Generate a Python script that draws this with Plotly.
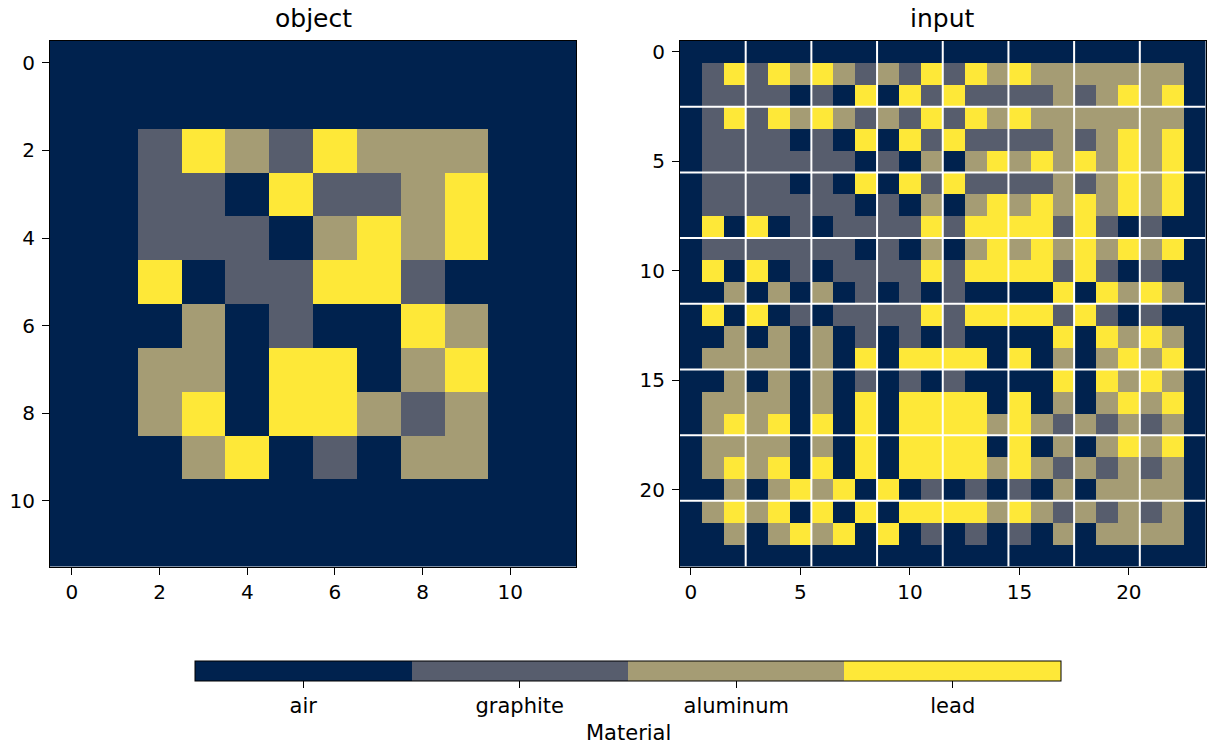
import numpy as np
import plotly.graph_objects as go

# ---------------- data ----------------
materials = ["air", "graphite", "aluminum", "lead"]
material_codes = [0, 1, 2, 3]
material_colors = ["#00224e", "#575d6d", "#a59c74", "#fee838"]

# object grid (12 x 12): 0 air, 1 graphite, 2 aluminum, 3 lead
object_grid = [
    [0, 0, 0, 0, 0, 0, 0, 0, 0, 0, 0, 0],
    [0, 0, 0, 0, 0, 0, 0, 0, 0, 0, 0, 0],
    [0, 0, 1, 3, 2, 1, 3, 2, 2, 2, 0, 0],
    [0, 0, 1, 1, 0, 3, 1, 1, 2, 3, 0, 0],
    [0, 0, 1, 1, 1, 0, 2, 3, 2, 3, 0, 0],
    [0, 0, 3, 0, 1, 1, 3, 3, 1, 0, 0, 0],
    [0, 0, 0, 2, 0, 1, 0, 0, 3, 2, 0, 0],
    [0, 0, 2, 2, 0, 3, 3, 0, 2, 3, 0, 0],
    [0, 0, 2, 3, 0, 3, 3, 2, 1, 2, 0, 0],
    [0, 0, 0, 2, 3, 0, 1, 0, 2, 2, 0, 0],
    [0, 0, 0, 0, 0, 0, 0, 0, 0, 0, 0, 0],
    [0, 0, 0, 0, 0, 0, 0, 0, 0, 0, 0, 0],
]

# input grid (24 x 24)
input_grid = [
    [0, 0, 0, 0, 0, 0, 0, 0, 0, 0, 0, 0, 0, 0, 0, 0, 0, 0, 0, 0, 0, 0, 0, 0],
    [0, 1, 3, 1, 3, 2, 3, 2, 1, 2, 1, 3, 1, 3, 2, 3, 2, 2, 2, 2, 2, 2, 2, 0],
    [0, 1, 1, 1, 1, 0, 1, 0, 3, 0, 3, 1, 3, 1, 1, 1, 1, 2, 1, 2, 3, 2, 3, 0],
    [0, 1, 3, 1, 3, 2, 3, 2, 1, 2, 1, 3, 1, 3, 2, 3, 2, 2, 2, 2, 2, 2, 2, 0],
    [0, 1, 1, 1, 1, 0, 1, 0, 3, 0, 3, 1, 3, 1, 1, 1, 1, 2, 1, 2, 3, 2, 3, 0],
    [0, 1, 1, 1, 1, 1, 1, 1, 0, 1, 0, 2, 0, 2, 3, 2, 3, 2, 3, 2, 3, 2, 3, 0],
    [0, 1, 1, 1, 1, 0, 1, 0, 3, 0, 3, 1, 3, 1, 1, 1, 1, 2, 1, 2, 3, 2, 3, 0],
    [0, 1, 1, 1, 1, 1, 1, 1, 0, 1, 0, 2, 0, 2, 3, 2, 3, 2, 3, 2, 3, 2, 3, 0],
    [0, 3, 0, 3, 0, 1, 0, 1, 1, 1, 1, 3, 1, 3, 3, 3, 3, 1, 3, 1, 0, 1, 0, 0],
    [0, 1, 1, 1, 1, 1, 1, 1, 0, 1, 0, 2, 0, 2, 3, 2, 3, 2, 3, 2, 3, 2, 3, 0],
    [0, 3, 0, 3, 0, 1, 0, 1, 1, 1, 1, 3, 1, 3, 3, 3, 3, 1, 3, 1, 0, 1, 0, 0],
    [0, 0, 2, 0, 2, 0, 2, 0, 1, 0, 1, 0, 1, 0, 0, 0, 0, 3, 0, 3, 2, 3, 2, 0],
    [0, 3, 0, 3, 0, 1, 0, 1, 1, 1, 1, 3, 1, 3, 3, 3, 3, 1, 3, 1, 0, 1, 0, 0],
    [0, 0, 2, 0, 2, 0, 2, 0, 1, 0, 1, 0, 1, 0, 0, 0, 0, 3, 0, 3, 2, 3, 2, 0],
    [0, 2, 2, 2, 2, 0, 2, 0, 3, 0, 3, 3, 3, 3, 0, 3, 0, 2, 0, 2, 3, 2, 3, 0],
    [0, 0, 2, 0, 2, 0, 2, 0, 1, 0, 1, 0, 1, 0, 0, 0, 0, 3, 0, 3, 2, 3, 2, 0],
    [0, 2, 2, 2, 2, 0, 2, 0, 3, 0, 3, 3, 3, 3, 0, 3, 0, 2, 0, 2, 3, 2, 3, 0],
    [0, 2, 3, 2, 3, 0, 3, 0, 3, 0, 3, 3, 3, 3, 2, 3, 2, 1, 2, 1, 2, 1, 2, 0],
    [0, 2, 2, 2, 2, 0, 2, 0, 3, 0, 3, 3, 3, 3, 0, 3, 0, 2, 0, 2, 3, 2, 3, 0],
    [0, 2, 3, 2, 3, 0, 3, 0, 3, 0, 3, 3, 3, 3, 2, 3, 2, 1, 2, 1, 2, 1, 2, 0],
    [0, 0, 2, 0, 2, 3, 2, 3, 0, 3, 0, 1, 0, 1, 0, 1, 0, 2, 0, 2, 2, 2, 2, 0],
    [0, 2, 3, 2, 3, 0, 3, 0, 3, 0, 3, 3, 3, 3, 2, 3, 2, 1, 2, 1, 2, 1, 2, 0],
    [0, 0, 2, 0, 2, 3, 2, 3, 0, 3, 0, 1, 0, 1, 0, 1, 0, 2, 0, 2, 2, 2, 2, 0],
    [0, 0, 0, 0, 0, 0, 0, 0, 0, 0, 0, 0, 0, 0, 0, 0, 0, 0, 0, 0, 0, 0, 0, 0],
]

left_ticks = [0, 2, 4, 6, 8, 10]
right_ticks = [0, 5, 10, 15, 20]
block_size = 3
titles = ["object", "input"]
colorbar_title = "Material"

# ---------------- figure ----------------
W, H = 1207, 749
FONT = "DejaVu Sans"
TICK_SIZE = 20
CB_SIZE = 21
TITLE_SIZE = 25

n_mat = len(materials)
colorscale = []
for i, c in enumerate(material_colors):
    colorscale.append([i / n_mat, c])
    colorscale.append([(i + 1) / n_mat, c])
zmin = material_codes[0] - 0.5
zmax = material_codes[-1] + 0.5

n_obj = len(object_grid)
n_in = len(input_grid)

cb_left, cb_right = 195, 1061

fig = go.Figure()
fig.add_trace(go.Heatmap(
    z=object_grid, xaxis="x", yaxis="y",
    colorscale=colorscale, zmin=zmin, zmax=zmax, showscale=False,
))
fig.add_trace(go.Heatmap(
    z=input_grid, xaxis="x2", yaxis="y2",
    colorscale=colorscale, zmin=zmin, zmax=zmax, showscale=True,
    colorbar=dict(
        orientation="h",
        x=(cb_left + cb_right) / 2 / W, xanchor="center",
        len=(cb_right - cb_left) / W, lenmode="fraction",
        y=1 - 661 / H, yanchor="top",
        thickness=20, thicknessmode="pixels",
        xpad=0, ypad=0,
        outlinewidth=1, outlinecolor="black",
        tickmode="array", tickvals=material_codes, ticktext=materials,
        ticks="outside", ticklen=7, tickwidth=1.2, tickcolor="black",
        tickfont=dict(family=FONT, size=CB_SIZE, color="black"),
    ),
))

left_dom = [50 / W, 576 / W]
right_dom = [680 / W, 1205.5 / W]
y_dom = [1 - 566.5 / H, 1 - 41 / H]

axis_common = dict(
    showline=True, mirror=True, linecolor="black", linewidth=1,
    ticks="outside", ticklen=7, tickwidth=1.2, tickcolor="black",
    showgrid=False, zeroline=False,
    tickfont=dict(family=FONT, size=TICK_SIZE, color="black"),
    tickmode="array",
)
yaxis_extra = dict(ticklabelstandoff=3)

fig.update_layout(
    width=W, height=H,
    margin=dict(l=0, r=0, t=0, b=0),
    paper_bgcolor="white", plot_bgcolor="white",
    font=dict(family=FONT, color="black"),
    xaxis=dict(domain=left_dom, range=[-0.5, n_obj - 0.5], anchor="y",
               tickvals=left_ticks, **axis_common),
    yaxis=dict(domain=y_dom, range=[n_obj - 0.5, -0.5], anchor="x",
               tickvals=left_ticks, **axis_common, **yaxis_extra),
    xaxis2=dict(domain=right_dom, range=[-0.5, n_in - 0.5], anchor="y2",
                tickvals=right_ticks, **axis_common),
    yaxis2=dict(domain=y_dom, range=[n_in - 0.5, -0.5], anchor="x2",
                tickvals=right_ticks, **axis_common, **yaxis_extra),
)

# white block separators on the input panel
for p in np.arange(block_size - 0.5, n_in - 1, block_size):
    fig.add_shape(type="line", xref="x2", yref="y2", layer="above",
                  x0=-0.5, x1=n_in - 0.5, y0=p, y1=p,
                  line=dict(color="white", width=2))
    fig.add_shape(type="line", xref="x2", yref="y2", layer="above",
                  x0=p, x1=p, y0=-0.5, y1=n_in - 0.5,
                  line=dict(color="white", width=2))

for t, dom in zip(titles, [left_dom, right_dom]):
    fig.add_annotation(
        text=t, xref="paper", yref="paper",
        x=(dom[0] + dom[1]) / 2, y=1 - 19 / H,
        xanchor="center", yanchor="middle", showarrow=False,
        font=dict(family=FONT, size=TITLE_SIZE, color="black"),
    )

# colorbar label under the tick labels
fig.add_annotation(
    text=colorbar_title, xref="paper", yref="paper",
    x=(cb_left + cb_right) / 2 / W, y=1 - 733 / H,
    xanchor="center", yanchor="middle", showarrow=False,
    font=dict(family=FONT, size=CB_SIZE, color="black"),
)

fig.write_html("out.html")
